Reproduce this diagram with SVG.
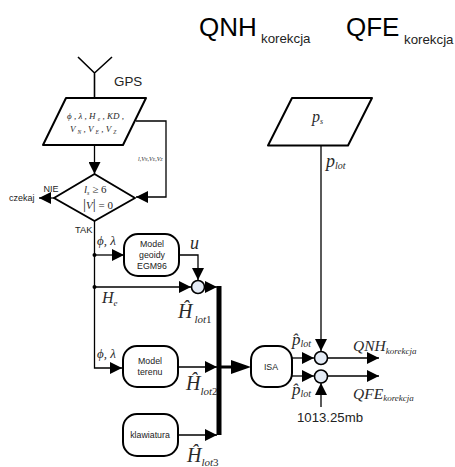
<svg xmlns="http://www.w3.org/2000/svg" width="455" height="467" viewBox="0 0 455 467">
<style>
.shape{fill:#fff;stroke:#000;stroke-width:2;stroke-linejoin:round}
.sum{fill:#e4ebf5;stroke:#000;stroke-width:1.6}
.line{fill:none;stroke:#000;stroke-width:1.3}
.sans{font-family:"Liberation Sans",Arial,sans-serif;fill:#222}
.math{font-family:"Liberation Serif","Times New Roman",serif;font-style:italic;fill:#2a2a2a}
.up{font-style:normal}
</style>
<defs>
<marker id="arr" markerUnits="userSpaceOnUse" markerWidth="14" markerHeight="12" refX="12" refY="6" orient="auto"><path d="M0 0L12 6L0 12Z" fill="#000"/></marker>
</defs>
<g id="title">
<text class="sans" x="199" y="36" font-size="26" style="fill:#000">QNH</text>
<text class="sans" x="261" y="43" font-size="13.300">korekcja</text>
<text class="sans" x="346" y="36" font-size="26" style="fill:#000">QFE</text>
<text class="sans" x="404" y="44" font-size="13.300">korekcja</text>
</g>
<g id="connectors">
<path class="line" style="stroke-width:1.6" d="M78 57L94.500 73L112 57M94.500 73V98"/>
<path class="line" marker-end="url(#arr)" d="M94.500 145V174"/>
<path class="line" marker-end="url(#arr)" d="M136 121H166V197H136"/>
<path class="line" marker-end="url(#arr)" d="M54 198H39"/>
<path class="line" marker-end="url(#arr)" d="M94.500 221V368H122"/>
<path class="line" marker-end="url(#arr)" d="M94.500 255H124"/>
<path class="line" marker-end="url(#arr)" d="M94.500 287H191"/>
<path class="line" marker-end="url(#arr)" d="M179 255H198V280"/>
<path class="line" marker-end="url(#arr)" d="M205 287H217"/>
<path class="line" marker-end="url(#arr)" d="M178 367H217"/>
<path class="line" marker-end="url(#arr)" d="M178 435H217"/>
<path d="M219 286V435" fill="none" stroke="#000" stroke-width="5"/>
<path d="M219 365.500H231V360L251 367L231 374V368.500H219Z" fill="#000"/>
<path class="line" marker-end="url(#arr)" d="M321 145V351"/>
<path class="line" marker-end="url(#arr)" d="M292 358H314"/>
<path class="line" marker-end="url(#arr)" d="M292 376H314"/>
<path class="line" marker-end="url(#arr)" d="M328 358H379"/>
<path class="line" marker-end="url(#arr)" d="M328 376H379"/>
<path class="line" marker-end="url(#arr)" d="M321 407V383"/>
<circle cx="94.500" cy="255" r="2"/>
<circle cx="94.500" cy="287" r="2"/>
</g>
<g id="gps-input">
<path class="shape" d="M66 98H146L123 145H43Z"/>
<text class="math" x="67" y="119" font-size="9">ϕ , λ , H <tspan font-size="5.500" dy="2">e</tspan><tspan dy="-2"> , KD ,</tspan></text>
<text class="math" x="70" y="132" font-size="9">V <tspan font-size="5.500" dy="2">N</tspan><tspan dy="-2"> , V </tspan><tspan font-size="5.500" dy="2">E</tspan><tspan dy="-2"> , V </tspan><tspan font-size="5.500" dy="2">Z</tspan></text>
<text class="sans" x="114" y="86" font-size="13.400">GPS</text>
<text class="math" x="138" y="161" font-size="6">l,V<tspan font-size="4">N</tspan>,V<tspan font-size="4">E</tspan>,V<tspan font-size="4">Z</tspan></text>
</g>
<g id="decision">
<path class="shape" d="M94.500 174L135 198L94.500 221L54 198Z"/>
<text class="math" x="84" y="193" font-size="11">l<tspan font-size="6" dy="2">s</tspan><tspan class="up" dy="-2"> ≥ 6</tspan></text>
<text class="math" x="83" y="209" font-size="11"><tspan class="up" font-size="15">|</tspan>V<tspan class="up" font-size="15">|</tspan><tspan class="up"> = 0</tspan></text>
<text class="sans" x="43.500" y="192" font-size="9">NIE</text>
<text class="sans" x="9" y="201" font-size="9">czekaj</text>
<text class="sans" x="75" y="233" font-size="9.300">TAK</text>
</g>
<g id="model-geoidy">
<rect class="shape" x="124" y="234" width="55" height="42" rx="14"/>
<text class="sans" x="152" y="247" font-size="8.800" text-anchor="middle">Model</text>
<text class="sans" x="152" y="258" font-size="8.800" text-anchor="middle">geoidy</text>
<text class="sans" x="152" y="269" font-size="8.800" text-anchor="middle">EGM96</text>
</g>
<g id="model-terenu">
<rect class="shape" x="123" y="346" width="55" height="41" rx="14"/>
<text class="sans" x="150" y="364" font-size="8.800" text-anchor="middle">Model</text>
<text class="sans" x="150" y="375" font-size="8.800" text-anchor="middle">terenu</text>
</g>
<g id="klawiatura">
<rect class="shape" x="123" y="414" width="55" height="42" rx="14"/>
<text class="sans" x="150" y="438" font-size="8.800" text-anchor="middle">klawiatura</text>
</g>
<g id="isa">
<rect class="shape" x="251" y="346" width="41" height="41" rx="14"/>
<text class="sans" x="271" y="370" font-size="8.800" text-anchor="middle">ISA</text>
</g>
<g id="sum-hlot"><circle class="sum" cx="198" cy="287" r="6.500"/></g>
<g id="sum-qnh"><circle class="sum" cx="321" cy="358" r="6.500"/></g>
<g id="sum-qfe"><circle class="sum" cx="321" cy="376.500" r="6.500"/></g>
<g id="pressure-input">
<path class="shape" d="M292 98H372L348 145.500H268Z"/>
<text class="math" x="312" y="122" font-size="16">p<tspan font-size="8" dy="2">s</tspan></text>
</g>
<g id="labels">
<text class="math" x="97" y="245" font-size="13">ϕ, λ</text>
<text class="math" x="97" y="358" font-size="13">ϕ, λ</text>
<text class="math" x="190" y="249" font-size="18">u</text>
<text class="math" x="102" y="303" font-size="16">H<tspan font-size="9" dy="3">e</tspan></text>
<text class="math" x="178" y="318" font-size="20">Ĥ<tspan font-size="11" dy="5" dx="2">lot</tspan><tspan class="up" font-size="11">1</tspan></text>
<text class="math" x="186" y="390" font-size="20">Ĥ<tspan font-size="11" dy="5">lot</tspan><tspan class="up" font-size="11">2</tspan></text>
<text class="math" x="187" y="462" font-size="20">Ĥ<tspan font-size="11" dy="4">lot</tspan><tspan class="up" font-size="11">3</tspan></text>
<text class="math" x="326" y="167" font-size="18">p<tspan font-size="10" dy="2">lot</tspan></text>
<text class="math" x="292" y="345" font-size="17">p̂<tspan font-size="10" dy="2">lot</tspan></text>
<text class="math" x="292" y="395" font-size="17">p̂<tspan font-size="10" dy="2">lot</tspan></text>
<text class="math" x="353" y="351" font-size="15.500">QNH<tspan font-size="9" dy="3">korekcja</tspan></text>
<text class="math" x="353" y="399" font-size="15.500">QFE<tspan font-size="9" dy="2">korekcja</tspan></text>
<text class="sans" x="297" y="422" font-size="13.200">1013.25mb</text>
</g>
</svg>
